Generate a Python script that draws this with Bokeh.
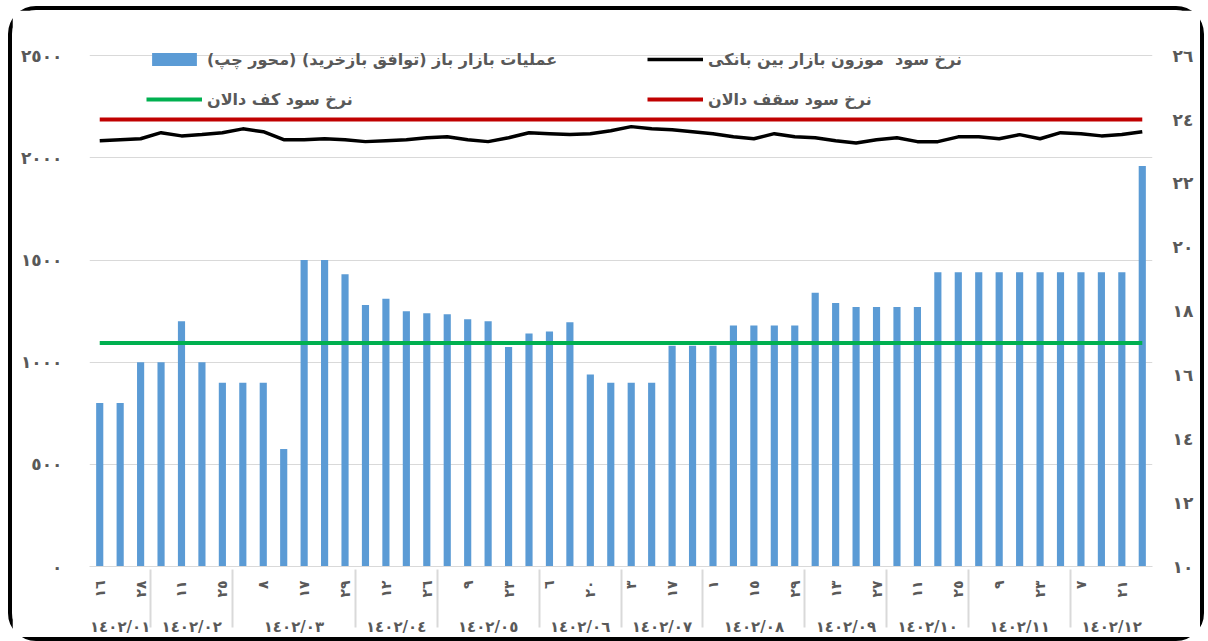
from bokeh.plotting import figure
from bokeh.models import FactorRange, Range1d, LinearAxis, FixedTicker, Legend, LegendItem
from bokeh.embed import file_html
from bokeh.resources import INLINE

AR = str.maketrans("0123456789", "٠١٢٣٤٥٦٧٨٩")

# ---------------- data ----------------
months = ["1402/01", "1402/02", "1402/03", "1402/04", "1402/05", "1402/06",
          "1402/07", "1402/08", "1402/09", "1402/10", "1402/11", "1402/12"]
month_sizes = [3, 4, 6, 4, 5, 4, 4, 5, 4, 4, 5, 4]
days = [16, 21, 28,
        4, 11, 18, 25,
        1, 8, 15, 17, 22, 29,
        5, 12, 19, 26,
        2, 9, 16, 23, 30,
        6, 13, 20, 27,
        3, 10, 17, 24,
        1, 8, 15, 22, 29,
        6, 13, 20, 27,
        4, 11, 18, 25,
        2, 9, 16, 23, 30,
        7, 14, 21, 28]
repo_volume = [800, 800, 1000,
               1000, 1200, 1000, 900,
               900, 900, 575, 1500, 1500, 1430,
               1280, 1310, 1250, 1240,
               1235, 1210, 1200, 1075, 1140,
               1150, 1195, 940, 900,
               900, 900, 1080, 1080,
               1080, 1180, 1180, 1180, 1180,
               1340, 1290, 1270, 1270,
               1270, 1270, 1440, 1440,
               1440, 1440, 1440, 1440, 1440,
               1440, 1440, 1440, 1960]
interbank_rate = [23.34, 23.37, 23.40,
                  23.59, 23.49, 23.53, 23.59,
                  23.71, 23.62, 23.37, 23.37, 23.40, 23.37,
                  23.31, 23.34, 23.37, 23.43,
                  23.46, 23.37, 23.31, 23.43, 23.59,
                  23.56, 23.53, 23.56, 23.65,
                  23.78, 23.71, 23.68, 23.62,
                  23.56, 23.46, 23.40, 23.56, 23.46,
                  23.43, 23.34, 23.27, 23.37,
                  23.43, 23.31, 23.31, 23.46,
                  23.46, 23.40, 23.53, 23.40, 23.59,
                  23.56, 23.49, 23.53, 23.62]
corridor_floor = 17.0
corridor_ceiling = 24.0
left_ticks = [0, 500, 1000, 1500, 2000, 2500]
right_ticks = [10, 12, 14, 16, 18, 20, 22, 24, 26]
left_range = (0, 2560)
right_range = (10, 10 + 2560 * 16 / 2500)

label_bars = "عملیات بازار باز (توافق بازخرید) (محور چپ)"
label_interbank = "نرخ سود  موزون بازار بین بانکی "
label_floor = "نرخ سود کف دالان"
label_ceiling = "نرخ سود سقف دالان"

# ---------------- factors ----------------
factors = []
i = 0
for m, n in zip(months, month_sizes):
    for k in range(n):
        d = "\u2007" + str(days[i]).translate(AR) if i % 2 == 0 else "\u200b" * (k + 1)
        factors.append((m.translate(AR), d))
        i += 1

FONT = "DejaVu Sans"
GREY = "#595959"

p = figure(width=1196, height=635, output_backend="svg", toolbar_location=None,
           x_range=FactorRange(*factors, range_padding=0, group_padding=0, factor_padding=0),
           y_range=Range1d(*left_range),
           min_border_left=77, min_border_right=56, min_border_top=33, min_border_bottom=79)
p.extra_y_ranges = {"right": Range1d(*right_range)}
p.outline_line_color = None
p.background_fill_color = "white"
p.styles = {"border": "4px solid black", "border-radius": "28px",
            "margin-left": "8px", "margin-top": "6px"}

bars = p.vbar(x=factors, top=repo_volume, width=0.35, color="#5b9bd5", line_color=None)
n = len(factors)
r_ceiling = p.line(x=factors, y=[corridor_ceiling] * n, y_range_name="right",
                   line_color="#c00000", line_width=4)
r_floor = p.line(x=factors, y=[corridor_floor] * n, y_range_name="right",
                 line_color="#00b050", line_width=4)
r_inter = p.line(x=factors, y=interbank_rate, y_range_name="right",
                 line_color="black", line_width=3.5)

# left axis
ya = p.yaxis[0]
ya.ticker = FixedTicker(ticks=left_ticks)
ya.major_label_overrides = {t: str(t).translate(AR) for t in left_ticks}
ya.axis_line_color = None
ya.major_tick_line_color = None
ya.minor_tick_line_color = None
ya.major_label_standoff = 21
ya.major_label_text_font = FONT
ya.major_label_text_font_style = "bold"
ya.major_label_text_font_size = "17px"
ya.major_label_text_color = GREY

# right axis
ra = LinearAxis(y_range_name="right", ticker=FixedTicker(ticks=right_ticks))
ra.major_label_overrides = {t: str(t).translate(AR) for t in right_ticks}
ra.axis_line_color = None
ra.major_tick_line_color = None
ra.minor_tick_line_color = None
ra.major_label_standoff = 14
ra.major_label_text_font = FONT
ra.major_label_text_font_style = "bold"
ra.major_label_text_font_size = "17px"
ra.major_label_text_color = GREY
p.add_layout(ra, "right")

# x axis
xa = p.xaxis[0]
xa.major_label_orientation = 1.5708
xa.major_label_standoff = 8
xa.axis_line_color = "#d9d9d9"
xa.major_tick_line_color = None
xa.separator_line_color = "#d9d9d9"
xa.separator_line_width = 2
xa.major_label_text_font = FONT
xa.major_label_text_font_style = "bold"
xa.major_label_text_font_size = "14px"
xa.major_label_text_color = GREY
xa.group_text_font = FONT
xa.group_text_font_style = "bold"
xa.group_text_font_size = "15px"
xa.group_text_color = GREY
xa.group_text_baseline = "top"

p.xgrid.grid_line_color = None
p.ygrid.ticker = FixedTicker(ticks=left_ticks)
p.ygrid.grid_line_color = "#d9d9d9"

def mk_legend(items, x, y):
    lg = Legend(items=items, location=(x, y), orientation="vertical",
                padding=0, margin=0, spacing=18, glyph_width=56, glyph_height=16,
                label_height=22, label_standoff=5,
                label_text_font=FONT, label_text_font_style="bold",
                label_text_font_size="16px", label_text_color=GREY,
                background_fill_alpha=0, border_line_color=None)
    p.add_layout(lg, "center")

mk_legend([LegendItem(label=label_bars, renderers=[bars]),
           LegendItem(label=label_floor, renderers=[r_floor])], 57, 456)
mk_legend([LegendItem(label=label_interbank, renderers=[r_inter]),
           LegendItem(label=label_ceiling, renderers=[r_ceiling])], 558, 456)

open("out.html", "w").write(file_html(p, INLINE))
